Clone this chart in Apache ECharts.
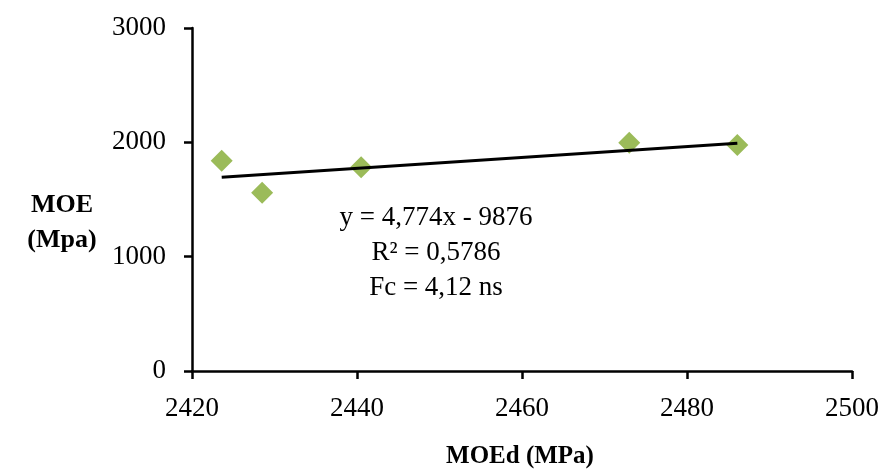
<!DOCTYPE html>
<html><head><meta charset="utf-8">
<script src="https://cdn.jsdelivr.net/npm/echarts@6/dist/echarts.min.js"></script>
<style>html,body{margin:0;padding:0;background:#fff}#c{width:885px;height:472px}</style>
</head><body><div id="c"></div>
<script>
const moed = [2423.6, 2428.5, 2440.5, 2473.0, 2486.1];
const moe = [1840, 1560, 1782, 1997, 1977];
const trendX = [2423.6, 2486.1];
const trendY = [1694, 1993];
const xTicks = [2420, 2440, 2460, 2480, 2500];
const yTicks = [0, 1000, 2000, 3000];
const annotation = ['y = 4,774x - 9876', 'R² = 0,5786', 'Fc = 4,12 ns'];
const xName = 'MOEd (MPa)';
const yName = ['MOE', '(Mpa)'];

const font = 'Liberation Serif';
const chart = echarts.init(document.getElementById('c'));
chart.setOption({
  animation: false,
  grid: {left: 192, right: 33, top: 28, bottom: 101},
  xAxis: {
    type: 'value', min: xTicks[0], max: xTicks[xTicks.length-1], interval: 20,
    axisLine: {lineStyle: {color: '#000', width: 2.5}},
    axisTick: {inside: false, length: 8, lineStyle: {color: '#000', width: 2.5}},
    axisLabel: {color: '#000', fontSize: 27, fontFamily: font, margin: 24, formatter: v => String(v)},
    splitLine: {show: false}
  },
  yAxis: {
    type: 'value', min: yTicks[0], max: yTicks[yTicks.length-1], interval: 1000,
    axisLine: {show: true, lineStyle: {color: '#000', width: 2.5}},
    axisTick: {show: true, inside: false, length: 8, lineStyle: {color: '#000', width: 2.5}},
    axisLabel: {color: '#000', fontSize: 27, fontFamily: font, margin: 26, formatter: v => String(v)},
    splitLine: {show: false}
  },
  series: [
    {
      type: 'line', data: trendX.map((x, i) => [x, trendY[i]]),
      symbol: 'none', lineStyle: {color: '#000', width: 3}, z: 3
    },
    {
      type: 'scatter', data: moed.map((x, i) => [x, moe[i]]),
      symbol: 'diamond', symbolSize: [22, 22],
      itemStyle: {color: '#9bbb59', opacity: 1}, z: 2
    }
  ],
  graphic: [
    ...annotation.map((t, i) => ({
      type: 'text', x: 436, y: 218 + i * 35,
      style: {text: t, fontSize: 27, fontFamily: font, fill: '#000', align: 'center', verticalAlign: 'middle'}
    })),
    ...yName.map((t, i) => ({
      type: 'text', x: 62, y: 205 + i * 35,
      style: {text: t, fontSize: 26, fontWeight: 'bold', fontFamily: font, fill: '#000', align: 'center', verticalAlign: 'middle'}
    })),
    {
      type: 'text', x: 520, y: 457,
      style: {text: xName, fontSize: 25, fontWeight: 'bold', fontFamily: font, fill: '#000', align: 'center', verticalAlign: 'middle'}
    }
  ]
});
</script></body></html>
